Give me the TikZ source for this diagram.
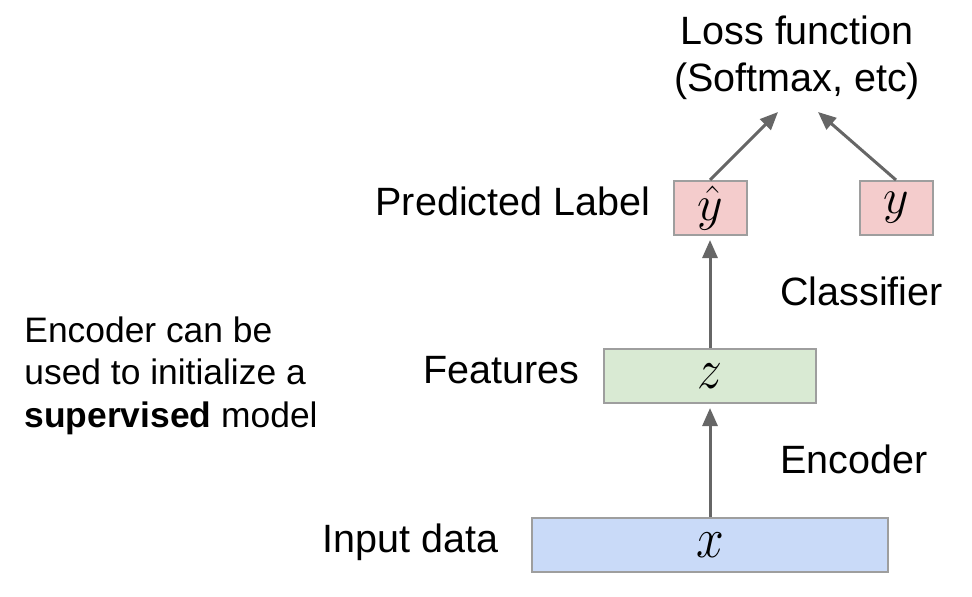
\documentclass[tikz,border=0pt]{standalone}
\usepackage{fontspec}
\setmainfont{Liberation Sans}
\usetikzlibrary{arrows.meta,positioning}
\definecolor{boxgray}{HTML}{9E9E9E}
\definecolor{arrowgray}{HTML}{666666}
\definecolor{predpink}{HTML}{F4CCCC}
\definecolor{featgreen}{HTML}{D9EAD3}
\definecolor{inblue}{HTML}{C9DAF8}
\tikzset{
  layer/.style={draw=boxgray, line width=1pt, minimum height=27pt, inner sep=0pt,
    font=\fontsize{28}{34}\selectfont},
  target/.style={layer, fill=predpink, minimum width=36.5pt,
    font=\fontsize{25}{30}\selectfont},
  lbl/.style={inner sep=0pt, font=\fontsize{19.75}{23.5}\selectfont},
  flow/.style={draw=arrowgray, line width=1.5pt, -{Triangle[length=9pt,width=7.5pt]}}
}
\newcommand{\tallmath}[1]{\scalebox{1}[1.15]{$#1$}}
\begin{document}
\begin{tikzpicture}[x=0.5pt,y=-0.5pt]
        \useasboundingbox (0,0) rectangle (972,596);
        % boxes
        \node[layer, fill=inblue, minimum width=178pt] (x) at (710,545) {\tallmath{x}};
        \node[layer, fill=featgreen, minimum width=106pt] (z) at (710,376) {\tallmath{z}};
        \node[target] (yhat) at (710,208) {$\hat{y}$};
        \node[target] (y) at (896,208) {$y$};
        % labels
        \node[lbl, anchor=base east] (input) at ([xshift=-16pt,yshift=-3.5pt]x.west) {Input data};
        \node[lbl, anchor=base east] (feat) at ([xshift=-11.5pt,yshift=-3.5pt]z.west) {Features};
        \node[lbl, anchor=base east] (pred) at ([xshift=-11pt,yshift=-3.5pt]yhat.west) {Predicted Label};
        \node[lbl, anchor=base west] (enc) at (780,473) {Encoder};
        \node[lbl, anchor=base west] (cls) at (780,305) {Classifier};
        \node[lbl, align=center] (loss) at (797,58) {Loss function\\(Softmax, etc)};
        \node[inner sep=0pt, anchor=north west, align=left,
          font=\fontsize{17.7}{21.25}\selectfont] (note) at (24,316)
          {Encoder can be\\used to initialize a\\\textbf{supervised} model};
        % arrows
        \coordinate (lossL) at (778,112);
        \coordinate (lossR) at (818,112);
        \draw[flow] (x) -- ([yshift=-2pt]z.south);
        \draw[flow] (z) -- ([yshift=-2pt]yhat.south);
        \draw[flow] (yhat.north) -- (lossL);
        \draw[flow] (y.north) -- (lossR);
\end{tikzpicture}
\end{document}
